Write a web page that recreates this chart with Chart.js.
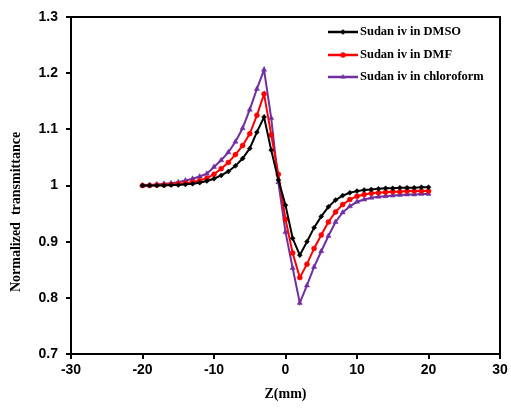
<!DOCTYPE html>
<html>
<head>
<meta charset="utf-8">
<script src="https://cdn.jsdelivr.net/npm/chart.js@4"></script>
<style>
  html, body { margin:0; padding:0; background:#fff; }
  #wrap { width:511px; height:413px; position:relative; }
</style>
</head>
<body>
<div id="wrap"><canvas id="zscan" width="511" height="413"></canvas></div>
<script>
/* z-scan: normalized transmittance vs Z for Sudan iv in three solvents */

const zPos = [-20,-19,-18,-17,-16,-15,-14,-13,-12,-11,-10,-9,-8,-7,-6,-5,-4,-3,-2,-1,0,
  1,2,3,4,5,6,7,8,9,10,11,12,13,14,15,16,17,18,19,20];

const dmso = [1.000,1.000,1.000,1.000,1.001,1.001,1.002,1.003,1.005,1.008,1.012,1.018,1.025,1.035,1.048,1.066,1.095,1.122,1.063,1.010,0.965,
  0.906,0.876,0.900,0.925,0.945,0.962,0.974,0.982,0.987,0.990,0.992,0.993,0.994,0.995,0.995,0.996,0.996,0.996,0.997,0.997];

const dmf = [1.000,1.000,1.001,1.001,1.002,1.003,1.004,1.006,1.009,1.013,1.020,1.030,1.041,1.055,1.071,1.092,1.125,1.163,1.090,1.020,0.940,
  0.880,0.836,0.860,0.888,0.912,0.935,0.953,0.966,0.975,0.981,0.984,0.986,0.987,0.988,0.989,0.989,0.990,0.990,0.990,0.990];

const chloroform = [1.000,1.001,1.002,1.003,1.004,1.006,1.009,1.012,1.016,1.021,1.033,1.045,1.059,1.078,1.102,1.135,1.172,1.206,1.120,1.006,0.917,
  0.853,0.791,0.822,0.855,0.883,0.910,0.935,0.952,0.963,0.971,0.975,0.978,0.980,0.981,0.982,0.983,0.984,0.984,0.985,0.985];

const seriesNames = ['Sudan iv in DMSO', 'Sudan iv in DMF', 'Sudan iv in chloroform'];
const seriesColors = ['#000000', '#ff0000', '#7030a0'];
const seriesMarkers = ['rectRot', 'circle', 'triangle'];

const xTicks = [-30, -20, -10, 0, 10, 20, 30];
const yTicks = [0.7, 0.8, 0.9, 1.0, 1.1, 1.2, 1.3];

const allValues = [dmso, dmf, chloroform];

function toPoints(vals){
  return vals.map((v, i) => ({ x: zPos[i], y: v }));
}

const datasets = allValues.map((vals, i) => ({
  label: seriesNames[i],
  data: toPoints(vals),
  borderColor: seriesColors[i],
  backgroundColor: seriesColors[i],
  borderWidth: 2,
  pointStyle: seriesMarkers[i],
  pointRadius: i === 2 ? 3 : 2.5,
  pointBorderWidth: 0.5,
  tension: 0
}));

const serif = '"Liberation Serif", "Times New Roman", serif';

// frame around the plot, y title, legend drawn inside top-right
const framePlugin = {
  id: 'frame',
  afterDraw(chart){
    const { ctx, chartArea: a } = chart;
    ctx.save();
    ctx.strokeStyle = '#000';
    ctx.lineWidth = 2;
    ctx.strokeRect(a.left, a.top, a.right - a.left, a.bottom - a.top);

    // y axis title (sits a bit below the middle in the original)
    ctx.save();
    ctx.translate(16, 212);
    ctx.rotate(-Math.PI / 2);
    ctx.fillStyle = '#000';
    ctx.font = 'bold 14px ' + serif;
    ctx.textAlign = 'center';
    ctx.textBaseline = 'middle';
    ctx.fillText('Normalized  transmittance', 0, 0);
    ctx.restore();

    // legend
    const rowsY = [32, 55, 77];
    chart.data.datasets.forEach((ds, i) => {
      const y = rowsY[i];
      ctx.strokeStyle = ds.borderColor;
      ctx.lineWidth = 2.5;
      ctx.beginPath();
      ctx.moveTo(328, y);
      ctx.lineTo(358, y);
      ctx.stroke();
      ctx.fillStyle = ds.backgroundColor;
      ctx.lineWidth = 0.5;
      Chart.helpers.drawPoint(ctx, { pointStyle: ds.pointStyle, radius: 2.5, borderWidth: 0.5 }, 343, y);
      ctx.fillStyle = '#000';
      ctx.font = 'bold 12.5px ' + serif;
      ctx.textBaseline = 'middle';
      ctx.textAlign = 'left';
      ctx.fillText(ds.label, 360, y);
    });
    ctx.restore();
  }
};

const tickFont = { family: '"Liberation Sans", Arial, sans-serif', size: 14, weight: 'bold' };
const titleFont = { family: serif, size: 14, weight: 'bold' };

new Chart(document.getElementById('zscan').getContext('2d'), {
  type: 'line',
  data: { datasets },
  options: {
    responsive: false,
    animation: false,
    layout: { padding: { top: 17, right: 11, left: 4, bottom: 6 } },
    plugins: { legend: { display: false }, tooltip: { enabled: false } },
    scales: {
      x: {
        type: 'linear',
        min: -30, max: 30,
        afterBuildTicks: s => { s.ticks = xTicks.map(v => ({ value: v })); },
        afterFit: s => { s.height = 53; },
        ticks: { color: '#000', font: tickFont, padding: 3, maxRotation: 0 },
        grid: { drawOnChartArea: false, drawTicks: true, tickLength: 5, color: '#000', lineWidth: 2 },
        border: { display: true, color: '#000', width: 2 },
        title: { display: true, text: 'Z(mm)', color: '#000', font: titleFont, padding: { top: 11 } }
      },
      y: {
        min: 0.7, max: 1.3,
        afterBuildTicks: s => { s.ticks = yTicks.map(v => ({ value: v })); },
        afterFit: s => { s.width = 67; },
        ticks: { color: '#000', font: tickFont, padding: 8, callback: v => String(Number(v.toFixed(1))) },
        grid: { drawOnChartArea: false, drawTicks: true, tickLength: 5, color: '#000', lineWidth: 2 },
        border: { display: true, color: '#000', width: 2 }
      }
    }
  },
  plugins: [framePlugin]
});
</script>
</body>
</html>
